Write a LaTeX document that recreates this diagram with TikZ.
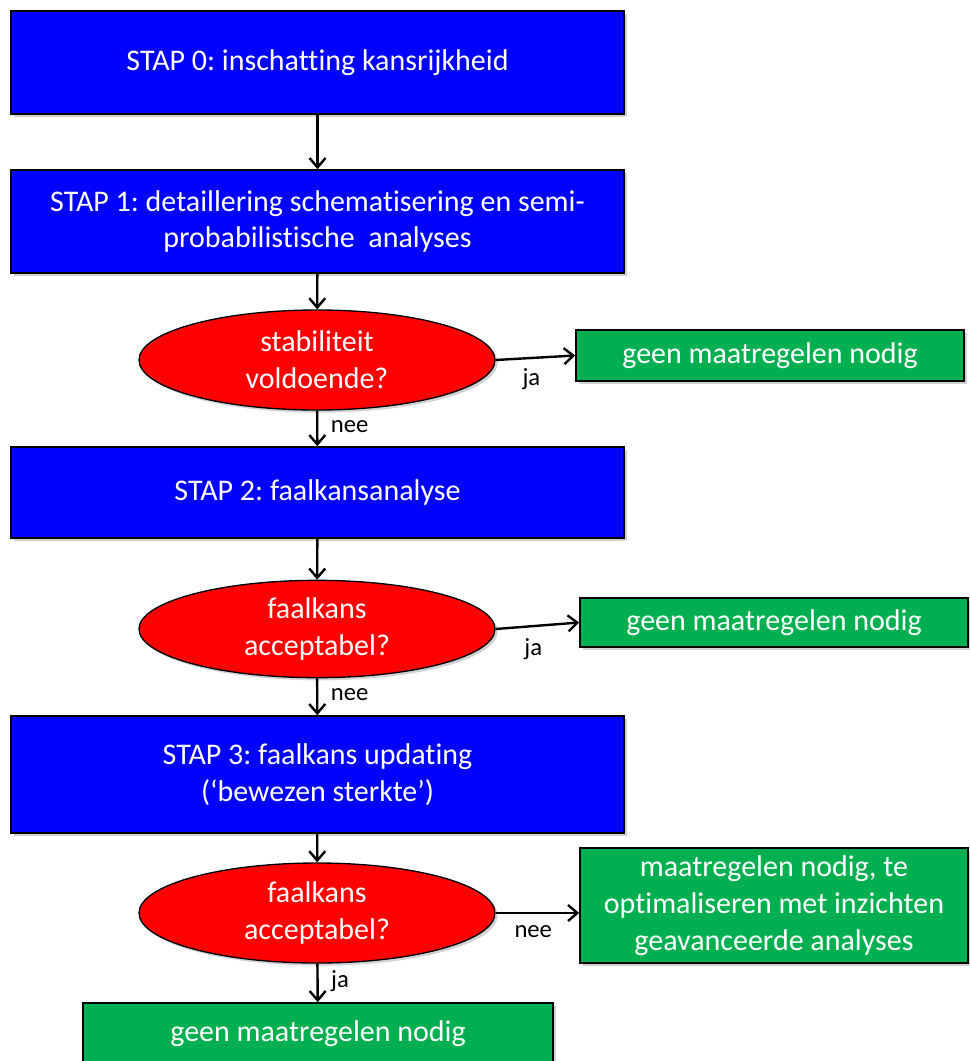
\documentclass[tikz,border=0pt]{standalone}
\usepackage{fontspec}
\setmainfont{Carlito}[Ligatures={NoCommon}]
\usetikzlibrary{shapes.geometric,arrows.meta,shadows}
\definecolor{stapblue}{RGB}{0,0,255}
\definecolor{qred}{RGB}{255,0,0}
\definecolor{okgreen}{RGB}{0,176,80}
\frenchspacing
\tikzset{
  shad/.style={drop shadow={opacity=0.35,shadow xshift=2pt,shadow yshift=-2pt}},
  bluebox/.style={rectangle,draw=black,line width=1.2pt,fill=stapblue,text=white,
    font=\fontsize{22.5}{27.5}\selectfont,align=center,minimum width=459.75pt,shad},
  redell/.style={ellipse,draw=black,line width=1pt,fill=qred,text=white,
    font=\fontsize{22.5}{27.5}\selectfont,align=center,minimum width=267pt,minimum height=75pt,inner sep=0pt,shad},
  greenbox/.style={rectangle,draw=black,line width=1.2pt,fill=okgreen,text=white,
    font=\fontsize{22.5}{27.5}\selectfont,align=center,minimum width=291pt,inner sep=2pt,shad},
  arr/.style={line width=1.8pt,-{Straight Barb[length=7pt,width=12pt,line width=1.8pt]}},
  lbl/.style={font=\fontsize{18.5}{22}\selectfont,text=black}
}
\begin{document}
\begin{tikzpicture}[x=0.75pt,y=-0.75pt]
\clip (0,0) rectangle (970,1061);
\useasboundingbox (0,0) rectangle (970,1061);
\fill[white] (0,0) rectangle (970,1061);
\node[bluebox,minimum height=77.25pt] (s0) at (317.5,62.5) {STAP 0: inschatting kansrijkheid};
\node[bluebox,minimum height=77.25pt] (s1) at (317.5,221.5) {STAP 1: detaillering schematisering en semi-\\probabilistische\ \ analyses};
\node[redell] (e1) at (317,360) {stabiliteit\\voldoende?};
\node[greenbox,minimum height=38.25pt] (g1) at (770,355.5) {geen maatregelen nodig};
\node[bluebox,minimum height=68.25pt] (s2) at (317.5,492.5) {STAP 2: faalkansanalyse};
\node[redell,minimum height=73pt] (e2) at (317,629) {faalkans\\acceptabel?};
\node[greenbox,minimum height=37pt] (g2) at (774,622.5) {geen maatregelen nodig};
\node[bluebox,minimum height=87.75pt] (s3) at (317.5,774.5) {STAP 3: faalkans updating\\(‘bewezen sterkte’)};
\node[redell] (e3) at (317,913) {faalkans\\acceptabel?};
\node[greenbox,minimum height=86.25pt] (g3) at (774,905.5) {maatregelen nodig, te\\optimaliseren met inzichten\\geavanceerde analyses};
\node[greenbox,minimum width=352.5pt,minimum height=45.75pt] (g4) at (318,1033.5) {geen maatregelen nodig};

\draw[arr] (s0) -- (s1);
\draw[arr] (s1) -- (e1);
\draw[arr] (e1.east) -- node[lbl,below=4pt,pos=0.45] {ja} (g1.west);
\draw[arr] (e1) -- node[lbl,right=6pt,pos=0.45] {nee} (s2);
\draw[arr] (s2) -- (e2);
\draw[arr] (e2.east) -- node[lbl,below=5pt,pos=0.45] {ja} (g2.west);
\draw[arr] (e2) -- node[lbl,right=6pt,pos=0.45] {nee} (s3);
\draw[arr] (s3) -- (e3);
\draw[arr] (e3.east) -- node[lbl,below=5pt,pos=0.45] {nee} (e3.east -| g3.west);
\draw[arr] (e3) -- node[lbl,right=6pt,pos=0.45] {ja} (g4);
\end{tikzpicture}
\end{document}
